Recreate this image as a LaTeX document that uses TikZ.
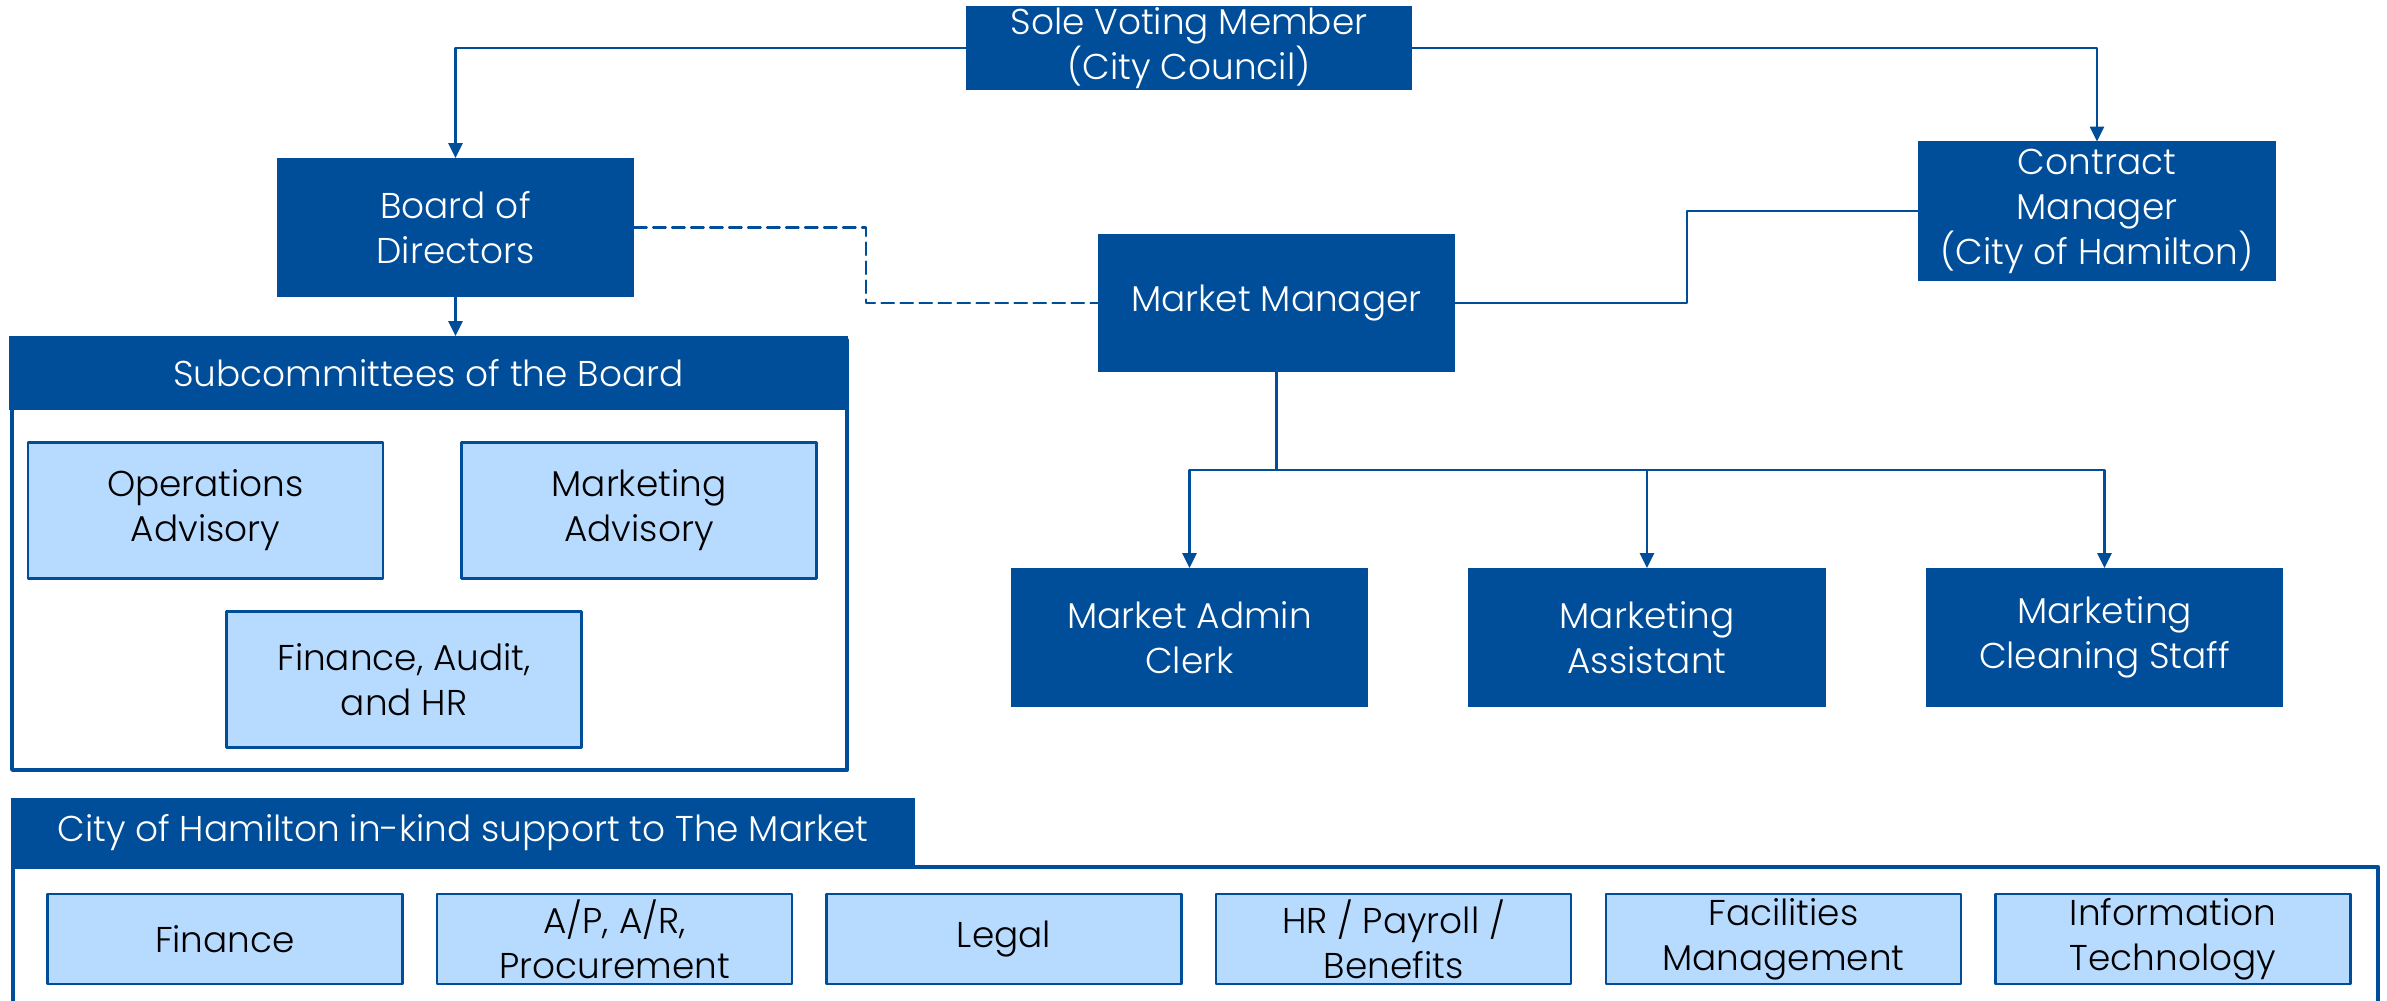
\documentclass[tikz,border=0pt]{standalone}
\usepackage{fontspec}
\setmainfont{Poppins}[UprightFont=* Light]
\usetikzlibrary{arrows.meta,calc}
\definecolor{hamblue}{RGB}{0,77,153}
\definecolor{hamlight}{RGB}{183,218,255}

\begin{document}
\begin{tikzpicture}[x=0.01cm, y=-0.01cm, line cap=round, line join=round, inner sep=0pt, outer sep=0pt,
	every node/.append style={font=\fontsize{10.2}{12.8}\selectfont, align=center},
	darkbox/.style={fill=hamblue, text=white, minimum width=3.57cm, minimum height=1.39cm},
	lightbox/.style={fill=hamlight, draw=hamblue, line width=.7pt, text=black, minimum width=3.55cm, minimum height=1.36cm},
	headbox/.style={fill=hamblue, text=white, minimum height=.74cm},
	link/.style={draw=hamblue, line width=.6pt},
	tip/.style={-{Triangle[length=4.2pt,width=4pt]}},
	frame/.style={draw=hamblue, line width=1.1pt}]
	
	\useasboundingbox (0,0) rectangle (2387,1001);
	
	% Top level
	\node[darkbox, minimum width=4.46cm, minimum height=.83cm] (sole) at (1189,48) {Sole Voting Member\\(City Council)};
	\node[darkbox] (board) at (455.5,227.5) {Board of\\Directors};
	\node[darkbox] (contract) at (2097,211) {Contract\\Manager\\(City of Hamilton)};
	\node[darkbox, minimum height=1.38cm] (mm) at (1276.5,303) {Market Manager};
	
	% Subcommittees of the Board
	\draw[frame] (12,340) rectangle (847,770);
	\node[headbox, minimum width=8.39cm] (subhead) at (428.5,373) {Subcommittees of the Board};
	\node[lightbox] (ops) at (205.5,510.5) {Operations\\Advisory};
	\node[lightbox] (mkadv) at (639,510.5) {Marketing\\Advisory};
	\node[lightbox] (fah) at (404,679.5) {Finance, Audit,\\and HR};
	
	% Staff
	\node[darkbox] (admin) at (1189.5,637.5) {Market Admin\\Clerk};
	\node[darkbox] (assist) at (1647,637.5) {Marketing\\Assistant};
	\node[darkbox] (clean) at (2104.5,637.5) {Marketing\\Cleaning Staff};
	
	% City of Hamilton in-kind support
	\draw[frame] (13,1010) -- (13,867) -- (2378,867) -- (2378,1010);
	\node[headbox, minimum width=9.04cm, minimum height=.7cm] (cityhead) at (463,833) {City of Hamilton in-kind support to The Market};
	\node[lightbox, minimum height=.9cm] (fin) at (225,939) {Finance};
	\node[lightbox, minimum height=.9cm] (apar) at (614.5,939) {A/P, A/R,\\Procurement};
	\node[lightbox, minimum height=.9cm] (legal) at (1004,939) {Legal};
	\node[lightbox, minimum height=.9cm] (hr) at (1393.5,939) {HR / Payroll /\\Benefits};
	\node[lightbox, minimum height=.9cm] (fac) at (1783.5,939) {Facilities\\Management};
	\node[lightbox, minimum height=.9cm] (it) at (2173,939) {Information\\Technology};
	
	% Connectors
	\coordinate (bm) at ($(board.east)!.5!(mm.west)$);
	\coordinate (mc) at ($(mm.east)!.5!(contract.west)$);
	\coordinate (bar) at ($(mm.south)!.5!(mm.south |- assist.north)$);
	\draw[link, tip] (sole.west) -| (board.north);
	\draw[link, tip] (sole.east) -| (contract.north);
	\draw[link, tip] (board.south) -- (board.south |- subhead.north);
	\draw[link, dash pattern=on 3.6pt off 1.8pt] (board.east) -| (bm) |- (mm.west);
	\draw[link] (mm.east) -| (mc) |- (contract.west);
	\draw[link] (mm.south) -- (bar);
	\foreach \n in {admin,assist,clean}
	\draw[link, tip] (bar) -| (\n.north);
	
\end{tikzpicture}
\end{document}
